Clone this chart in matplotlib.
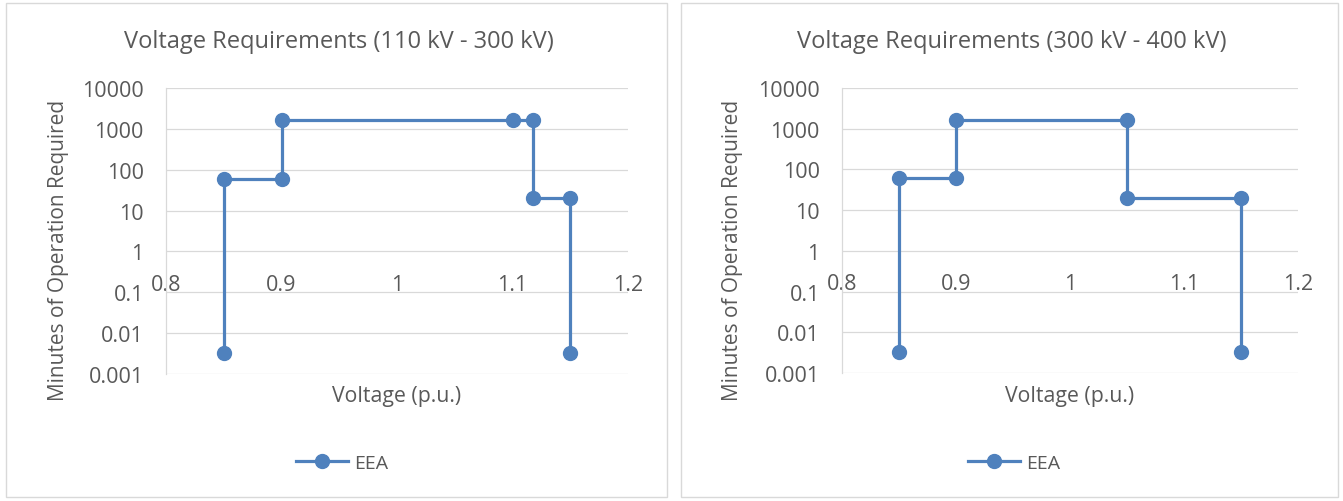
import matplotlib
matplotlib.use("Agg")
import matplotlib.pyplot as plt
from matplotlib.patches import Rectangle

# data
voltsLow = [0.85, 0.85, 0.9, 0.9, 1.1, 1.118, 1.118, 1.15, 1.15]
minsLow = [0.00333, 60, 60, 1666.67, 1666.67, 1666.67, 20, 20, 0.00333]
voltsHigh = [0.85, 0.85, 0.9, 0.9, 1.05, 1.05, 1.15, 1.15]
minsHigh = [0.00333, 60, 60, 1666.67, 1666.67, 20, 20, 0.00333]
titles = ["Voltage Requirements (110 kV - 300 kV)", "Voltage Requirements (300 kV - 400 kV)"]
xTicks = [0.8, 0.9, 1, 1.1, 1.2]
xTickLabels = ["0.8", "0.9", "1", "1.1", "1.2"]
yTicks = [0.001, 0.01, 0.1, 1, 10, 100, 1000, 10000]
yTickLabels = ["0.001", "0.01", "0.1", "1", "10", "100", "1000", "10000"]
seriesName = "EEA"

W, H = 1343, 502
blue = "#4f81bd"
grey = "#595959"
gridGrey = "#d9d9d9"
plt.rcParams["font.family"] = ["Open Sans", "DejaVu Sans"]

fig = plt.figure(figsize=(W / 100, H / 100), dpi=100)

def px(x0, y0, x1, y1):
    # pixel box (top-left origin) -> figure fraction rect
    return [x0 / W, 1 - y1 / H, (x1 - x0) / W, (y1 - y0) / H]

def drawPanel(box, plotBox, ylabX, titleX, legendX, volts, mins, title):
    fig.add_artist(Rectangle((box[0] / W, 1 - box[3] / H), (box[2] - box[0]) / W,
                             (box[3] - box[1]) / H, transform=fig.transFigure,
                             fill=False, edgecolor=gridGrey, lw=1))
    ax = fig.add_axes(px(*plotBox))
    ax.set_yscale("log")
    ax.set_xlim(0.8, 1.2)
    ax.set_ylim(0.001, 10000)
    ax.plot(volts, mins, color=blue, lw=2.3, marker="o", markersize=10,
            label=seriesName, zorder=3, clip_on=False)
    ax.set_yticks(yTicks)
    ax.set_yticklabels(yTickLabels)
    ax.yaxis.set_minor_locator(matplotlib.ticker.NullLocator())
    ax.set_xticks(xTicks)
    ax.set_xticklabels(xTickLabels)
    ax.grid(axis="y", color=gridGrey, lw=0.9)
    ax.set_axisbelow(True)
    for s in ["top", "right"]:
        ax.spines[s].set_visible(False)
    ax.spines["left"].set_color(gridGrey)
    ax.spines["left"].set_linewidth(0.9)
    ax.spines["bottom"].set_position(("data", 1))
    ax.spines["bottom"].set_visible(False)
    ax.tick_params(axis="x", length=0, pad=16, labelsize=15.5, labelcolor=grey)
    ax.tick_params(axis="y", length=0, pad=16, labelsize=15.5, labelcolor=grey)
    ax.set_xlabel("Voltage (p.u.)", fontsize=15.3, color=grey)
    ax.set_ylabel("Minutes of Operation Required", fontsize=15, color=grey)
    pw = plotBox[2] - plotBox[0]
    ph = plotBox[3] - plotBox[1]
    ax.yaxis.set_label_coords((ylabX - plotBox[0]) / pw, (plotBox[3] - 250) / ph)
    ax.xaxis.set_label_coords(0.5, (plotBox[3] - 386) / ph)
    fig.text(titleX / W, 1 - 42 / H, title, ha="center", va="center",
             fontsize=17, color=grey)
    ax.legend(loc="center", bbox_to_anchor=(legendX / W, 1 - 464 / H),
              bbox_transform=fig.transFigure, frameon=False, fontsize=14,
              handlelength=2.7, handletextpad=0.3, labelcolor=grey)
    return ax

drawPanel((6, 4, 667, 498), (166, 89, 628, 375), 69, 339, 342, voltsLow, minsLow, titles[0])
drawPanel((681, 4, 1338, 498), (842, 89, 1298, 374), 743, 1012, 1014, voltsHigh, minsHigh, titles[1])

fig.savefig("out.png", dpi=100)
